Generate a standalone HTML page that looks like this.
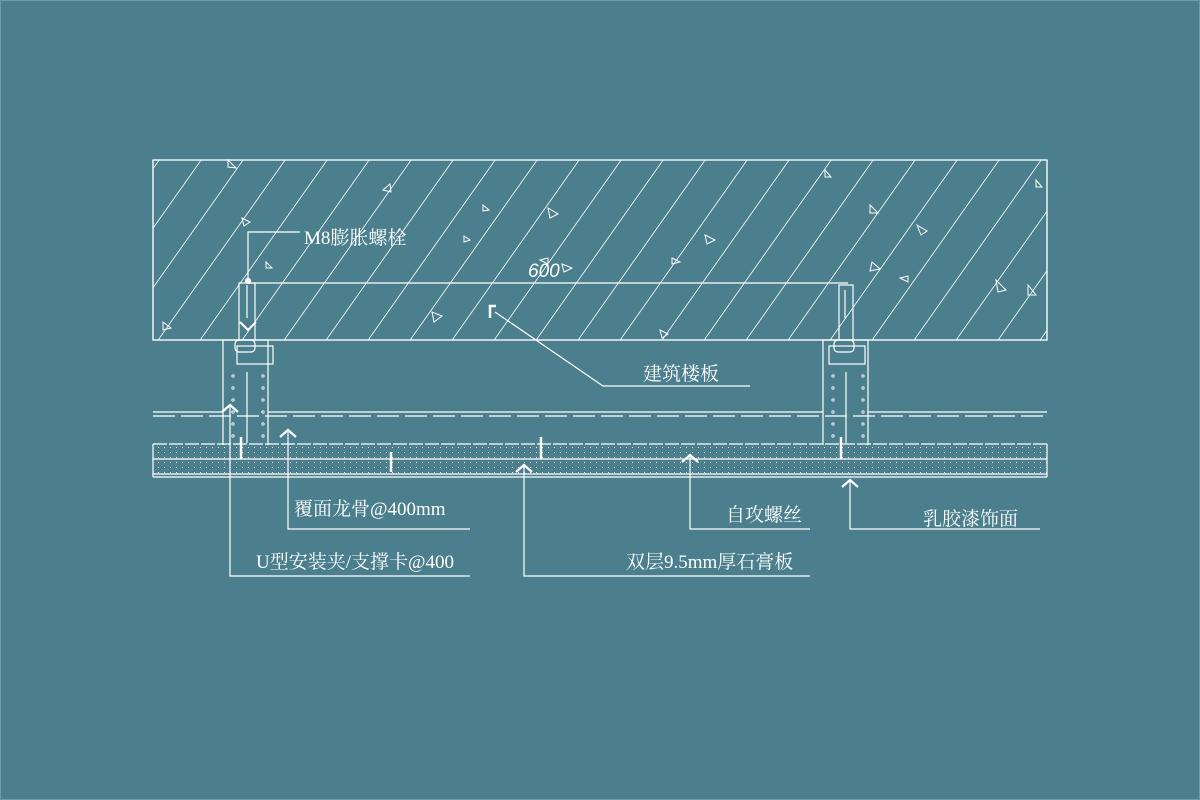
<!DOCTYPE html>
<html><head><meta charset="utf-8"><style>
html,body{margin:0;padding:0;background:#4b7f8e;}
svg{display:block}
text{font-family:"Liberation Serif","Noto Serif CJK SC",serif;fill:#fff;font-size:19px}
</style></head><body>
<svg width="1200" height="800" viewBox="0 0 1200 800" xmlns="http://www.w3.org/2000/svg">
<defs>
<pattern id="h" width="42" height="400" patternUnits="userSpaceOnUse" patternTransform="skewX(-35.2)">
<line x1="20" y1="-10" x2="20" y2="410" stroke="#fff" stroke-width="1"/>
</pattern>
<pattern id="dots" width="6" height="5" patternUnits="userSpaceOnUse">
<rect x="2" y="2" width="1" height="1" fill="#fff"/>
</pattern>
<pattern id="cd" width="10" height="12" patternUnits="userSpaceOnUse">
<circle cx="3" cy="4" r="1.2" fill="none" stroke="#fff" stroke-width="0.8"/>
</pattern>
</defs>
<rect x="0.5" y="0.5" width="1199" height="799" fill="#4b7f8e" stroke="#6f9aa6"/>
<g stroke="#fff" fill="none" stroke-width="1.2">
<rect x="153" y="160" width="894" height="180" fill="url(#h)"/>
<rect x="153" y="160" width="894" height="180"/>
<g stroke-width="1">
<path d="M228 160 l8 8 l-8 -1z M383 190 l7 -6 l1 8z M242 218 l8 4 l-6 4z M464 236 l6 4 l-6 2z M548 208 l10 6 l-8 4z M483 205 l6 5 l-6 1z M705 235 l10 5 l-8 4z M672 258 l8 4 l-8 2z M825 170 l6 7 l-6 0z M872 262 l8 7 l-10 2z M900 278 l8 -2 l0 6z M996 280 l10 10 l-8 2z M1028 285 l8 10 l-8 0z M1036 180 l6 7 l-6 0z M163 322 l8 6 l-8 2z M266 262 l6 6 l-6 0z M432 312 l10 4 l-8 6z M540 260 l8 -2 l0 6z M660 330 l8 4 l-6 4z M917 225 l10 6 l-6 4z M870 205 l8 8 l-8 0z M562 264 l10 4 l-8 4z"/>
</g>
<line x1="248" y1="283" x2="848" y2="283"/>
<rect x="239" y="283" width="16" height="57"/>
<line x1="247" y1="285" x2="247" y2="318"/>
<path d="M240 322 l8 8 l8 -8" stroke-width="2"/>
<rect x="237" y="346" width="36" height="18"/>
<rect x="235" y="340" width="20" height="12" rx="4"/>
<path d="M223 340 V445 M268 340 V445 M223 340 H268"/>
<rect x="226" y="368" width="10" height="72" fill="url(#cd)" stroke="none"/>
<rect x="259" y="368" width="8" height="72" fill="url(#cd)" stroke="none"/>
<line x1="247" y1="372" x2="247" y2="443"/>
<rect x="839" y="285" width="14" height="55"/>
<line x1="845" y1="290" x2="845" y2="318"/>
<rect x="829" y="346" width="36" height="18"/>
<rect x="834" y="340" width="20" height="12" rx="4"/>
<path d="M823 340 V445 M868 340 V445 M823 340 H868"/>
<rect x="826" y="368" width="10" height="72" fill="url(#cd)" stroke="none"/>
<rect x="859" y="368" width="8" height="72" fill="url(#cd)" stroke="none"/>
<line x1="846" y1="372" x2="846" y2="443"/>
<line x1="153" y1="412" x2="223" y2="412"/><line x1="268" y1="412" x2="823" y2="412"/><line x1="868" y1="412" x2="1047" y2="412"/>
<line x1="153" y1="416" x2="1047" y2="416" stroke-dasharray="22 6"/>
<rect x="153" y="444" width="894" height="32" fill="url(#dots)" stroke="none"/>
<line x1="153" y1="444" x2="1047" y2="444" stroke-dasharray="14 2"/>
<line x1="153" y1="459" x2="1047" y2="459"/>
<line x1="153" y1="474" x2="1047" y2="474"/>
<line x1="153" y1="477" x2="1047" y2="477"/>
<line x1="153" y1="444" x2="153" y2="477"/>
<line x1="1047" y1="444" x2="1047" y2="477"/>
<g stroke-width="2.5">
<line x1="241" y1="437" x2="241" y2="459"/>
<line x1="391" y1="452" x2="391" y2="472"/>
<line x1="541" y1="437" x2="541" y2="459"/>
<line x1="841" y1="437" x2="841" y2="459"/>
</g>
<path d="M248 280 V232 H300"/>
<circle cx="248" cy="281" r="2.5" fill="#fff"/>
<path d="M495 312 L603 386 H750"/>
<path d="M490 318 V306 h6" stroke-width="2.5"/>
<path d="M230 405 V576 H470"/>
<path d="M288 432 V529 H470"/>
<path d="M524 465 V576 H810"/>
<path d="M690 455 V529 H810"/>
<path d="M850 480 V529 H1040"/>
<g stroke-width="2.2">
<path d="M222 412 l8 -7 l8 7"/>
<path d="M280 437 l8 -7 l8 7"/>
<path d="M516 472 l8 -7 l8 7"/>
<path d="M682 462 l8 -7 l8 7"/>
<path d="M842 487 l8 -7 l8 7"/>
</g>
</g>
<text x="304" y="244" font-size="20">M8膨胀螺栓</text>
<text x="528" y="277" font-style="italic" style="font-family:'Liberation Sans',sans-serif;font-size:19px">600</text>
<text x="643" y="380" font-size="20">建筑楼板</text>
<text x="294" y="515" font-size="20">覆面龙骨@400mm</text>
<text x="256" y="568" font-size="20">U型安装夹/支撑卡@400</text>
<text x="626" y="568" font-size="20">双层9.5mm厚石膏板</text>
<text x="726" y="521" font-size="20">自攻螺丝</text>
<text x="923" y="525" font-size="20">乳胶漆饰面</text>
</svg>
</body></html>
